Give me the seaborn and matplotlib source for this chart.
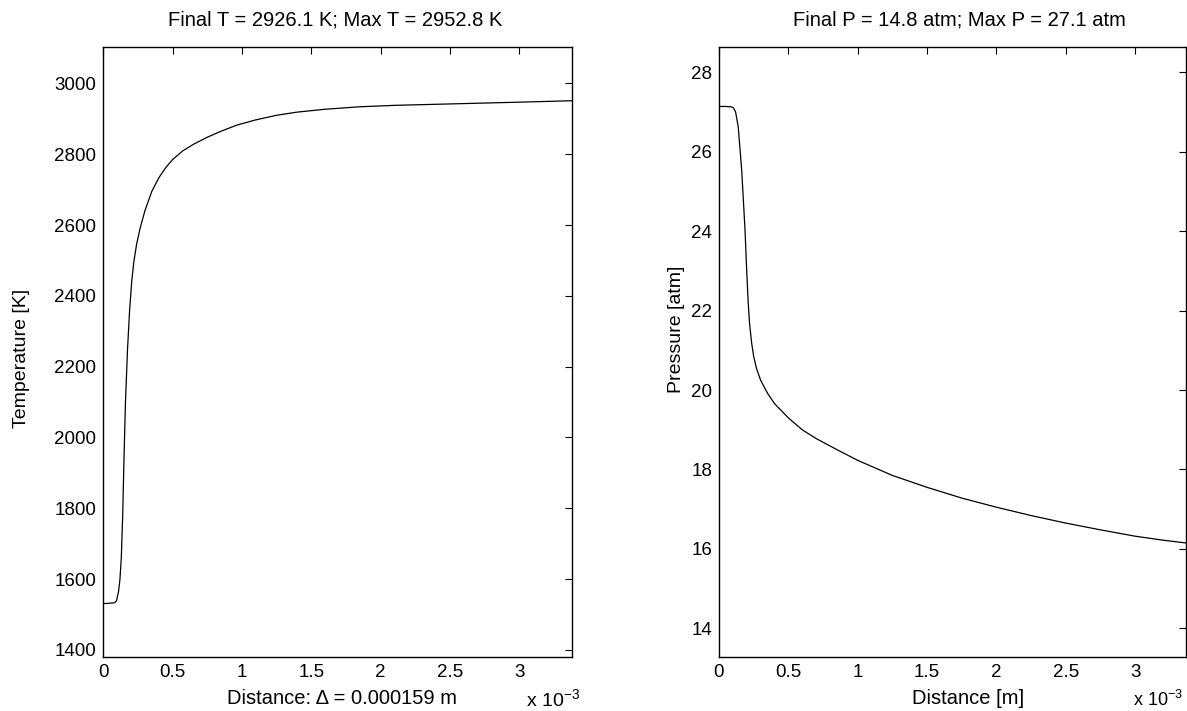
import numpy as np
import pandas as pd
import matplotlib
matplotlib.use("Agg")
import matplotlib.pyplot as plt
import seaborn as sns
from matplotlib.ticker import FixedLocator

# ---------------- data (distance in metres) ----------------
temp_x = [0.0, 0.02e-3, 0.05e-3, 0.08e-3, 0.095e-3, 0.11e-3, 0.12e-3, 0.13e-3, 0.14e-3,
          0.15e-3, 0.16e-3, 0.175e-3, 0.19e-3, 0.205e-3, 0.22e-3, 0.24e-3, 0.265e-3,
          0.3e-3, 0.35e-3, 0.4e-3, 0.45e-3, 0.5e-3, 0.575e-3, 0.65e-3, 0.75e-3,
          0.85e-3, 0.962e-3, 1.1e-3, 1.25e-3, 1.4e-3, 1.6e-3, 1.85e-3, 2.1e-3,
          2.5e-3, 3.0e-3, 3.377e-3]
temp_T = [1531, 1531, 1532, 1533, 1538, 1565, 1598, 1660, 1780,
          1950, 2100, 2250, 2360, 2440, 2495, 2545, 2590,
          2640, 2695, 2733, 2762, 2785, 2810, 2828, 2848,
          2865, 2882, 2897, 2910, 2919, 2927, 2934, 2938,
          2942, 2947, 2951]

pres_x = [0.0, 0.05e-3, 0.09e-3, 0.105e-3, 0.12e-3, 0.139e-3, 0.164e-3, 0.188e-3, 0.2e-3,
          0.21e-3, 0.22e-3, 0.235e-3, 0.25e-3, 0.27e-3, 0.3e-3, 0.35e-3, 0.4e-3,
          0.5e-3, 0.6e-3, 0.7e-3, 0.85e-3, 1.0e-3, 1.25e-3, 1.5e-3, 1.75e-3,
          2.0e-3, 2.25e-3, 2.5e-3, 2.75e-3, 3.0e-3, 3.2e-3, 3.365e-3]
pres_P = [27.14, 27.14, 27.13, 27.1, 27.0, 26.62, 25.53, 24.02, 23.0,
          22.25, 21.7, 21.2, 20.85, 20.55, 20.25, 19.92, 19.66,
          19.3, 19.0, 18.78, 18.5, 18.23, 17.85, 17.55, 17.28,
          17.05, 16.84, 16.65, 16.48, 16.32, 16.22, 16.15]

x_ticks = [0.0, 0.5e-3, 1.0e-3, 1.5e-3, 2.0e-3, 2.5e-3, 3.0e-3]
x_tick_labels = ["0", "0.5", "1", "1.5", "2", "2.5", "3"]
t_ticks = [1400, 1600, 1800, 2000, 2200, 2400, 2600, 2800, 3000]
p_ticks = [14, 16, 18, 20, 22, 24, 26, 28]

title_T = "Final T = 2926.1 K; Max T = 2952.8 K"
title_P = "Final P = 14.8 atm; Max P = 27.1 atm"
xlabel_T = "Distance: \u0394 = 0.000159 m"
xlabel_P = "Distance [m]"
ylabel_T = "Temperature [K]"
ylabel_P = "Pressure [atm]"
scale_text = r"x 10$^{-3}$"

# ---------------- style ----------------
sns.set_theme(style="white")
plt.rcParams["font.family"] = ["Liberation Sans", "DejaVu Sans"]
plt.rcParams["mathtext.fontset"] = "custom"
plt.rcParams["mathtext.rm"] = "Liberation Sans"
plt.rcParams["text.color"] = "black"
plt.rcParams["axes.labelcolor"] = "black"
FS_TITLE = 14.5
FS_TICK = 13.5
FS_YLAB = 14

fig = plt.figure(figsize=(11.87, 7.11), dpi=100)
fig.patch.set_facecolor("white")
ax1 = fig.add_axes([0.0870, 0.0755, 0.3946, 0.858])
ax2 = fig.add_axes([0.6057, 0.0755, 0.3932, 0.858])

df_T = pd.DataFrame({"x": temp_x, "T": temp_T})
df_P = pd.DataFrame({"x": pres_x, "P": pres_P})

sns.lineplot(data=df_T, x="x", y="T", ax=ax1, color="black", linewidth=0.9, sort=False)
sns.lineplot(data=df_P, x="x", y="P", ax=ax2, color="black", linewidth=0.9, sort=False)

ax1.set_xlim(0, 3.377e-3)
ax1.set_ylim(1379, 3102)
ax2.set_xlim(0, 3.365e-3)
ax2.set_ylim(13.27, 28.63)

for ax, yt in ((ax1, t_ticks), (ax2, p_ticks)):
    ax.xaxis.set_major_locator(FixedLocator(x_ticks))
    ax.set_xticklabels(x_tick_labels)
    ax.yaxis.set_major_locator(FixedLocator(yt))
    ax.set_yticklabels([str(v) for v in yt])
    ax.tick_params(direction="in", length=5, width=0.8, top=True, right=True,
                   labelsize=FS_TICK, colors="black", pad=5)
    for s in ax.spines.values():
        s.set_visible(True)
        s.set_color("black")
        s.set_linewidth(1.0)
    ax.set_facecolor("white")
    ax.grid(False)

ax1.set_title(title_T, fontsize=FS_TITLE, pad=16, x=0.496, color="black")
ax2.set_title(title_P, fontsize=FS_TITLE, pad=16, x=0.515, color="black")
ax1.set_xlabel(xlabel_T, fontsize=FS_TITLE)
ax2.set_xlabel(xlabel_P, fontsize=FS_TITLE)
ax1.xaxis.set_label_coords(0.51, -0.052)
ax2.xaxis.set_label_coords(0.534, -0.052)
ax1.set_ylabel(ylabel_T, fontsize=FS_YLAB)
ax2.set_ylabel(ylabel_P, fontsize=FS_YLAB)
ax1.yaxis.set_label_coords(-0.156, 0.49)
ax2.yaxis.set_label_coords(-0.073, 0.537)

ax1.text(0.902, -0.07, scale_text, transform=ax1.transAxes, fontsize=14,
         ha="left", va="center")
ax2.text(0.995, -0.07, scale_text, transform=ax2.transAxes, fontsize=13,
         ha="right", va="center")

fig.savefig("out.png", dpi=100, facecolor="white")
